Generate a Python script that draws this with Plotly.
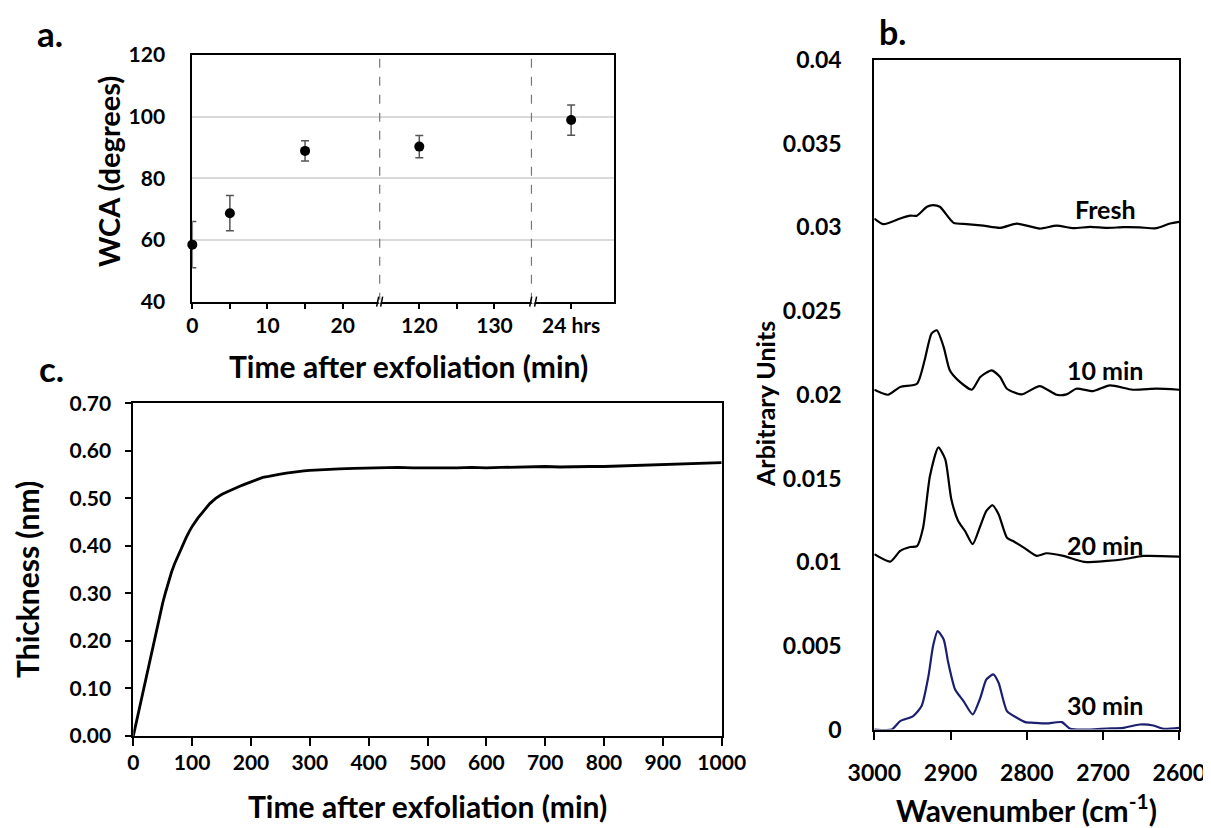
import plotly.graph_objects as go

# ---------------- data ----------------
# panel a: water contact angle
wca_time_min = [0, 5, 15, 120, 1440]
wca_mean = [58.5, 68.7, 88.9, 90.3, 98.9]
wca_err = [7.5, 5.7, 3.3, 3.6, 4.9]
wca_tick_times = [0, 10, 20, 120, 130, 1440]
wca_tick_text = ["0", "10", "20", "120", "130", "24 hrs"]
wca_minor_times = [5, 15, 125]

# panel c: thickness vs time
thk_time = [0, 5, 10, 15, 20, 25, 30, 35, 40, 45, 50, 55, 60, 65, 70, 75, 80, 85, 90, 95,
            100, 110, 120, 130, 140, 150, 160, 170, 180, 190, 200, 210, 220, 230, 240, 250,
            260, 270, 280, 290, 300, 325, 350, 375, 400, 425, 450, 475, 500, 525, 550, 575,
            600, 625, 650, 675, 700, 725, 750, 775, 800, 825, 850, 875, 900, 925, 950, 975, 1000]
thk_nm = [0.000, 0.028, 0.055, 0.083, 0.111, 0.140, 0.170, 0.200, 0.228, 0.255, 0.280, 0.303,
          0.326, 0.345, 0.362, 0.377, 0.392, 0.405, 0.418, 0.430, 0.441, 0.459, 0.474, 0.489,
          0.500, 0.508, 0.514, 0.520, 0.525, 0.530, 0.535, 0.540, 0.544, 0.546, 0.549, 0.551,
          0.553, 0.555, 0.556, 0.558, 0.559, 0.561, 0.562, 0.563, 0.564, 0.564, 0.565, 0.564,
          0.564, 0.563, 0.564, 0.565, 0.564, 0.565, 0.566, 0.567, 0.567, 0.566, 0.567, 0.567,
          0.567, 0.568, 0.569, 0.571, 0.572, 0.573, 0.573, 0.574, 0.575]

# panel b: IR spectra
fresh_wn = [3000, 2988, 2966, 2953, 2944, 2931, 2923, 2914, 2896, 2879, 2857, 2835, 2813,
            2783, 2761, 2739, 2717, 2695, 2673, 2652, 2630, 2612, 2600]
fresh_au = [0.03053, 0.03019, 0.03053, 0.0307, 0.0307, 0.03123, 0.03133, 0.03123, 0.03027,
            0.0302, 0.0301, 0.02997, 0.03023, 0.02993, 0.0301, 0.02995, 0.03003, 0.02997,
            0.03001, 0.0300, 0.02995, 0.03023, 0.03033]
min10_wn = [3000, 2982, 2966, 2944, 2934, 2925, 2918, 2909, 2901, 2890, 2872, 2861, 2846,
            2835, 2826, 2807, 2783, 2761, 2748, 2735, 2713, 2691, 2661, 2630, 2600]
min10_au = [0.0203, 0.0200, 0.02046, 0.02066, 0.02206, 0.02365, 0.02385, 0.02285, 0.02146,
            0.02086, 0.0203, 0.02106, 0.02146, 0.02106, 0.02036, 0.02002, 0.02052, 0.0200,
            0.02002, 0.02036, 0.02022, 0.02056, 0.0203, 0.02036, 0.0203]
min20_wn = [3000, 2979, 2966, 2953, 2944, 2936, 2927, 2916, 2907, 2899, 2890, 2881, 2871,
            2861, 2853, 2845, 2837, 2826, 2818, 2804, 2787, 2774, 2752, 2725, 2695, 2673,
            2647, 2600]
min20_au = [0.01047, 0.01003, 0.01067, 0.0109, 0.01096, 0.01206, 0.01515, 0.01685, 0.01615,
            0.01376, 0.01246, 0.01186, 0.01107, 0.01216, 0.01306, 0.0134, 0.01286, 0.01146,
            0.01126, 0.01087, 0.01037, 0.01053, 0.01037, 0.01001, 0.01007, 0.01017, 0.01037,
            0.01033]
min30_wn = [3000, 2977, 2966, 2949, 2938, 2929, 2923, 2917, 2909, 2903, 2894, 2883, 2871,
            2861, 2853, 2844, 2837, 2826, 2813, 2802, 2791, 2774, 2754, 2743, 2717, 2695,
            2673, 2652, 2634, 2621, 2600]
min30_au = [0.0, 0.0, 0.0005, 0.0008, 0.0014, 0.00319, 0.00498, 0.00588, 0.00538, 0.00399,
            0.00239, 0.0017, 0.0009, 0.00189, 0.00299, 0.00329, 0.00279, 0.0011, 0.0007,
            0.00044, 0.0004, 0.00036, 0.00044, 0.00004, 0.0, 0.00006, 0.0001, 0.0003,
            0.00024, 0.00004, 0.0001]
spec_labels = ["Fresh", "10 min", "20 min", "30 min"]
spec_label_y = [0.0311, 0.0215, 0.0110, 0.00147]
b_ytick_vals = [0, 0.005, 0.01, 0.015, 0.02, 0.025, 0.03, 0.035, 0.04]
b_ytick_text = ["0", "0.005", "0.01", "0.015", "0.02", "0.025", "0.03", "0.035", "0.04"]

# ---------------- helpers ----------------
W, H = 1211, 828
OFF = 8  # page body margin of the browser
FONT = "Lato"


def px(x):
    return (x - OFF) / W


def py(y):
    return 1 - (y - OFF) / H


# broken axis mapping for panel a (min -> axis position)
def a_pos(t):
    if t <= 25:
        return t
    if t <= 140:
        return t - 89.8
    return 50.4


A_X0, A_PPU = 192.3, 7.52  # pixel of position 0, pixels per unit
A_Y0, A_Y1 = 55, 301.7


def a_px(v):
    return A_X0 + v * A_PPU


fig = go.Figure()

# panel a
fig.add_trace(go.Scatter(
    x=[a_pos(t) for t in wca_time_min], y=wca_mean, mode="markers",
    marker=dict(color="black", size=10),
    error_y=dict(type="data", array=wca_err, color="#555555", thickness=1.5, width=4),
    cliponaxis=False, showlegend=False, xaxis="x", yaxis="y"))

# panel c
fig.add_trace(go.Scatter(
    x=thk_time, y=thk_nm, mode="lines", line=dict(color="black", width=2.8),
    showlegend=False, xaxis="x2", yaxis="y2"))

# panel b
for wn, au, col in [(fresh_wn, fresh_au, "black"), (min10_wn, min10_au, "black"),
                    (min20_wn, min20_au, "black"), (min30_wn, min30_au, "#1c1f6e")]:
    fig.add_trace(go.Scatter(
        x=wn, y=au, mode="lines", line=dict(color=col, width=2.2, shape="spline", smoothing=0.6),
        showlegend=False, xaxis="x3", yaxis="y3"))

axis_common = dict(showline=True, linecolor="black", linewidth=2, mirror=True,
                   zeroline=False, showgrid=False, automargin=False)

fig.update_layout(
    width=W, height=H, margin=dict(l=0, r=0, t=0, b=0, pad=0, autoexpand=False),
    paper_bgcolor="white", plot_bgcolor="white",
    font=dict(family=FONT, color="black"),
    xaxis=dict(domain=[px(192.3), px(614)], range=[0, 56.1], anchor="y",
               tickmode="array", tickvals=[a_pos(t) for t in wca_tick_times],
               ticktext=wca_tick_text, ticks="outside", ticklen=5, tickwidth=1.5,
               tickcolor="black", ticklabelstandoff=-1,
               minor=dict(tickmode="array", tickvals=[a_pos(t) for t in wca_minor_times],
                          ticks="outside", ticklen=5, tickwidth=1.5, tickcolor="black"),
               tickfont=dict(family=FONT, size=21, weight="bold"), **axis_common),
    yaxis=dict(domain=[py(A_Y1), py(A_Y0)], range=[40, 120], anchor="x",
               tickmode="linear", tick0=40, dtick=20, ticks="",
               ticklabelstandoff=21, automargin=False,
               tickfont=dict(family=FONT, size=21, weight="bold"),
               showline=True, linecolor="black", linewidth=2, mirror=True,
               zeroline=False, showgrid=True, gridcolor="#d9d9d9", gridwidth=1.5),
    xaxis2=dict(domain=[px(133.3), px(721.7)], range=[0, 1000], anchor="y2",
                tickmode="linear", tick0=0, dtick=100, ticks="outside", ticklen=8,
                tickwidth=2, tickcolor="black", ticklabelstandoff=-1,
                tickfont=dict(family=FONT, size=21, weight="bold"), **axis_common),
    yaxis2=dict(domain=[py(736), py(403.3)], range=[0, 0.7], anchor="x2",
                tickmode="linear", tick0=0, dtick=0.1, tickformat=".2f",
                ticks="outside", ticklen=6, tickwidth=2, tickcolor="black",
                ticklabelstandoff=10,
                tickfont=dict(family=FONT, size=21, weight="bold"), **axis_common),
    xaxis3=dict(domain=[px(874.3), px(1179.3)], range=[3000, 2600], anchor="y3",
                tickmode="linear", tick0=2600, dtick=100, ticks="outside", ticklen=8,
                tickwidth=2, tickcolor="black", ticklabelstandoff=14,
                tickfont=dict(family=FONT, size=23, weight="bold"), **axis_common),
    yaxis3=dict(domain=[py(729.5), py(60)], range=[0, 0.04], anchor="x3",
                tickmode="array", tickvals=b_ytick_vals, ticktext=b_ytick_text,
                ticks="", ticklabelstandoff=26,
                tickfont=dict(family=FONT, size=23, weight="bold"), **axis_common),
)

shapes = []
# dashed break lines and axis breaks in panel a
for v_dash, v_l, v_r in [(24.92, 24.65, 25.18), (45.1, 45.0, 45.65)]:
    shapes.append(dict(type="line", xref="paper", yref="paper",
                       x0=px(a_px(v_dash)), x1=px(a_px(v_dash)), y0=py(A_Y1), y1=py(A_Y0),
                       line=dict(color="#777777", width=1.2, dash="dash"), layer="above"))
    shapes.append(dict(type="rect", xref="paper", yref="paper",
                       x0=px(a_px(v_l) + 1), x1=px(a_px(v_r) - 1),
                       y0=py(A_Y1 + 2), y1=py(A_Y1 - 2),
                       fillcolor="white", line=dict(width=0), layer="above"))
    for v in (v_l, v_r):
        shapes.append(dict(type="line", xref="paper", yref="paper",
                           x0=px(a_px(v) - 1), x1=px(a_px(v) + 1),
                           y0=py(A_Y1 + 5), y1=py(A_Y1 - 5),
                           line=dict(color="black", width=1.5), layer="above"))
fig.update_layout(shapes=shapes)

ann = []


def add_text(text, x, y, size, angle=0):
    ann.append(dict(text=text, x=px(x), y=py(y), xref="paper", yref="paper",
                    showarrow=False, textangle=angle, xanchor="center", yanchor="middle",
                    font=dict(family=FONT, size=size, color="black", weight="bold")))


add_text("a.", 50, 33, 35)
add_text("c.", 51, 368, 35)
add_text("b.", 892, 31, 34)
add_text("WCA (degrees)", 108, 172, 29, -90)
add_text("Time after exfoliation (min)", 408, 366, 30)
add_text("Thickness (nm)", 27, 580, 30, -90)
add_text("Time after exfoliation (min)", 427, 806, 30)
add_text("Arbitrary Units", 765, 404, 25, -90)
add_text("Wavenumber (cm<sup>-1</sup>)", 1027, 808, 30)

for lab, yv in zip(spec_labels, spec_label_y):
    ann.append(dict(text=lab, x=2697, y=yv, xref="x3", yref="y3", showarrow=False,
                    xanchor="center", yanchor="middle",
                    font=dict(family=FONT, size=25, color="black", weight="bold")))

fig.update_layout(annotations=ann)
fig.write_html("out.html")
